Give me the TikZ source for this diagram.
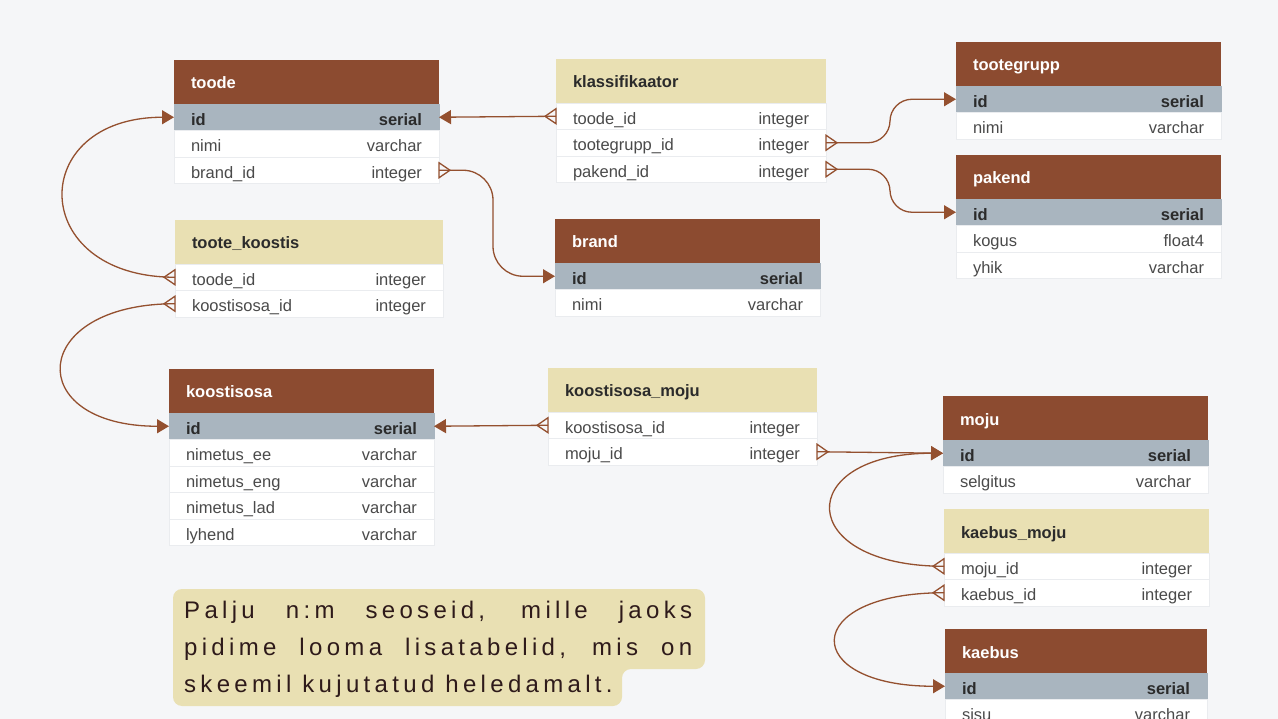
\documentclass[tikz,border=0pt]{standalone}
\usepackage{fontspec}
\setmainfont{Liberation Sans}
\usepackage{tikz}
\usetikzlibrary{arrows.meta,positioning}
\definecolor{bgc}{HTML}{F5F6F8}
\definecolor{hdrc}{HTML}{8C4B30}
\definecolor{beigec}{HTML}{E9E0B3}
\definecolor{pkc}{HTML}{A9B5BF}
\definecolor{sepc}{HTML}{EAECEF}
\definecolor{fldc}{HTML}{4A4A4A}
\definecolor{darkc}{HTML}{2B2B2B}
\definecolor{notec}{HTML}{2E1A1A}
\definecolor{relc}{HTML}{94502F}

\pgfdeclarearrow{
  name = Crow,
  parameters = {\the\pgfarrowlength,\the\pgfarrowwidth},
  setup code = {
    \pgfarrowssettipend{0pt}
    \pgfarrowssetlineend{0pt}
    \pgfarrowssetbackend{-\pgfarrowlength}
    \pgfarrowssavethe\pgfarrowlength
    \pgfarrowssavethe\pgfarrowwidth
  },
  drawing code = {
    \pgfpathmoveto{\pgfqpoint{0pt}{.5\pgfarrowwidth}}
    \pgfpathlineto{\pgfqpoint{-\pgfarrowlength}{0pt}}
    \pgfpathlineto{\pgfqpoint{0pt}{-.5\pgfarrowwidth}}
    \pgfpathclose
    \pgfusepathqstroke
  },
  defaults = {length=11pt, width=15pt}
}

\begin{document}
\begin{tikzpicture}[%
        x=1pt, y=-1pt,
        hdr/.style={ anchor=north west, minimum height=44pt, text width=231pt, inner xsep=17pt, inner ysep=0pt, outer sep=0pt, text height=14pt, text depth=0pt, fill=hdrc, text=white, font=\bfseries\fontsize{16.5}{18}\selectfont },%
        lnk/.style={ hdr, fill=beigec, text=darkc },%
        fld/.style={ minimum height=26.5pt, text width=231pt, inner xsep=17pt, inner ysep=0pt, outer sep=0pt, text height=16pt, text depth=0pt, fill=white, draw=sepc, line width=.6pt, text=fldc, font=\fontsize{16.5}{18}\selectfont },%
        pk/.style={ fld, fill=pkc, draw=pkc, text=darkc, font=\bfseries\fontsize{16.5}{18}\selectfont },%
        wide/.style={ text width=236pt },%
        fk/.style={ draw=relc, line width=1.3pt, >={Triangle[length=12pt,width=14pt]}, Crow-> },%
        note/.style={ anchor=base west, inner sep=0pt, text=notec, font=\fontsize{24}{37}\selectfont\addfontfeature{LetterSpace=18} }%
      ]
      \useasboundingbox (0,0) rectangle (1278,719);
      \clip (0,0) rectangle (1278,719);
      \fill[bgc] (0,0) rectangle (1278,719);

      \node[hdr] (toode) at (174,60) {toode};
      \node[pk, below=0pt of toode] (toode-id) {id\hfill serial};
      \node[fld, below=0pt of toode-id] (toode-nimi) {nimi\hfill varchar};
      \node[fld, below=0pt of toode-nimi] (toode-brand) {brand\_id\hfill integer};

      \node[lnk, wide] (klass) at (556,59) {klassifikaator};
      \node[fld, wide, below=0pt of klass] (klass-toode) {toode\_id\hfill integer};
      \node[fld, wide, below=0pt of klass-toode] (klass-grupp) {tootegrupp\_id\hfill integer};
      \node[fld, wide, below=0pt of klass-grupp] (klass-pakend) {pakend\_id\hfill integer};

      \node[hdr] (grupp) at (956,42) {tootegrupp};
      \node[pk, below=0pt of grupp] (grupp-id) {id\hfill serial};
      \node[fld, below=0pt of grupp-id] (grupp-nimi) {nimi\hfill varchar};

      \node[hdr] (pakend) at (956,155) {pakend};
      \node[pk, below=0pt of pakend] (pakend-id) {id\hfill serial};
      \node[fld, below=0pt of pakend-id] (pakend-kogus) {kogus\hfill float4};
      \node[fld, below=0pt of pakend-kogus] (pakend-yhik) {yhik\hfill varchar};

      \node[hdr] (brand) at (555,219) {brand};
      \node[pk, below=0pt of brand] (brand-id) {id\hfill serial};
      \node[fld, below=0pt of brand-id] (brand-nimi) {nimi\hfill varchar};

      \node[lnk, text width=234pt] (koostis) at (175,220) {toote\_koostis};
      \node[fld, text width=234pt, below=0pt of koostis] (koostis-toode) {toode\_id\hfill integer};
      \node[fld, text width=234pt, below=0pt of koostis-toode] (koostis-osa) {koostisosa\_id\hfill integer};

      \node[hdr] (osa) at (169,369) {koostisosa};
      \node[pk, below=0pt of osa] (osa-id) {id\hfill serial};
      \node[fld, below=0pt of osa-id] (osa-ee) {nimetus\_ee\hfill varchar};
      \node[fld, below=0pt of osa-ee] (osa-eng) {nimetus\_eng\hfill varchar};
      \node[fld, below=0pt of osa-eng] (osa-lad) {nimetus\_lad\hfill varchar};
      \node[fld, below=0pt of osa-lad] (osa-lyhend) {lyhend\hfill varchar};

      \node[lnk, text width=235pt] (osamoju) at (548,368) {koostisosa\_moju};
      \node[fld, text width=235pt, below=0pt of osamoju] (osamoju-osa) {koostisosa\_id\hfill integer};
      \node[fld, text width=235pt, below=0pt of osamoju-osa] (osamoju-moju) {moju\_id\hfill integer};

      \node[hdr] (moju) at (943,396) {moju};
      \node[pk, below=0pt of moju] (moju-id) {id\hfill serial};
      \node[fld, below=0pt of moju-id] (moju-selgitus) {selgitus\hfill varchar};

      \node[lnk] (kmoju) at (944,509) {kaebus\_moju};
      \node[fld, below=0pt of kmoju] (kmoju-moju) {moju\_id\hfill integer};
      \node[fld, below=0pt of kmoju-moju] (kmoju-kaebus) {kaebus\_id\hfill integer};

      \node[hdr, text width=228pt] (kaebus) at (945,629) {kaebus};
      \node[pk, text width=228pt, below=0pt of kaebus] (kaebus-id) {id\hfill serial};
      \node[fld, text width=228pt, below=0pt of kaebus-id] (kaebus-sisu) {sisu\hfill varchar};

      \draw[fk] (klass-toode.west) -- (toode-id.east);
      \draw[fk, rounded corners=22pt] (klass-grupp.east) -- ++(64,0) |- (grupp-id.west);
      \draw[fk, rounded corners=22pt] (klass-pakend.east) -- ++(64,0) |- (pakend-id.west);
      \draw[fk, rounded corners=30pt] (toode-brand.east) -- ++(54,0) |- (brand-id.west);
      \draw[fk] (koostis-toode.west) to[out=180, in=180, distance=148pt] (toode-id.west);
      \draw[fk] (koostis-osa.west) to[out=180, in=180, distance=147pt] (osa-id.west);
      \draw[fk] (osamoju-osa.west) -- (osa-id.east);
      \draw[fk] (osamoju-moju.east) -- (moju-id.west);
      \draw[fk] (kmoju-moju.west) to[out=180, in=180, distance=150pt] (moju-id.west);
      \draw[fk] (kmoju-kaebus.west) to[out=180, in=180, distance=145pt] (kaebus-id.west);

      \fill[beigec, rounded corners=9pt] (173,589) -- (705,589) -- (705,669) -- (622,669) -- (622,706) -- (173,706) -- cycle;
      \node[note] (note1) at (184,618) {\makebox[508pt][s]{Palju n:m seoseid, mille jaoks}};
      \node[note] (note2) at (184,655) {\makebox[508pt][s]{pidime looma lisatabelid, mis on}};
      \node[note] (note3) at (184,692) {skeemil kujutatud heledamalt.};
    \end{tikzpicture}
\end{document}
